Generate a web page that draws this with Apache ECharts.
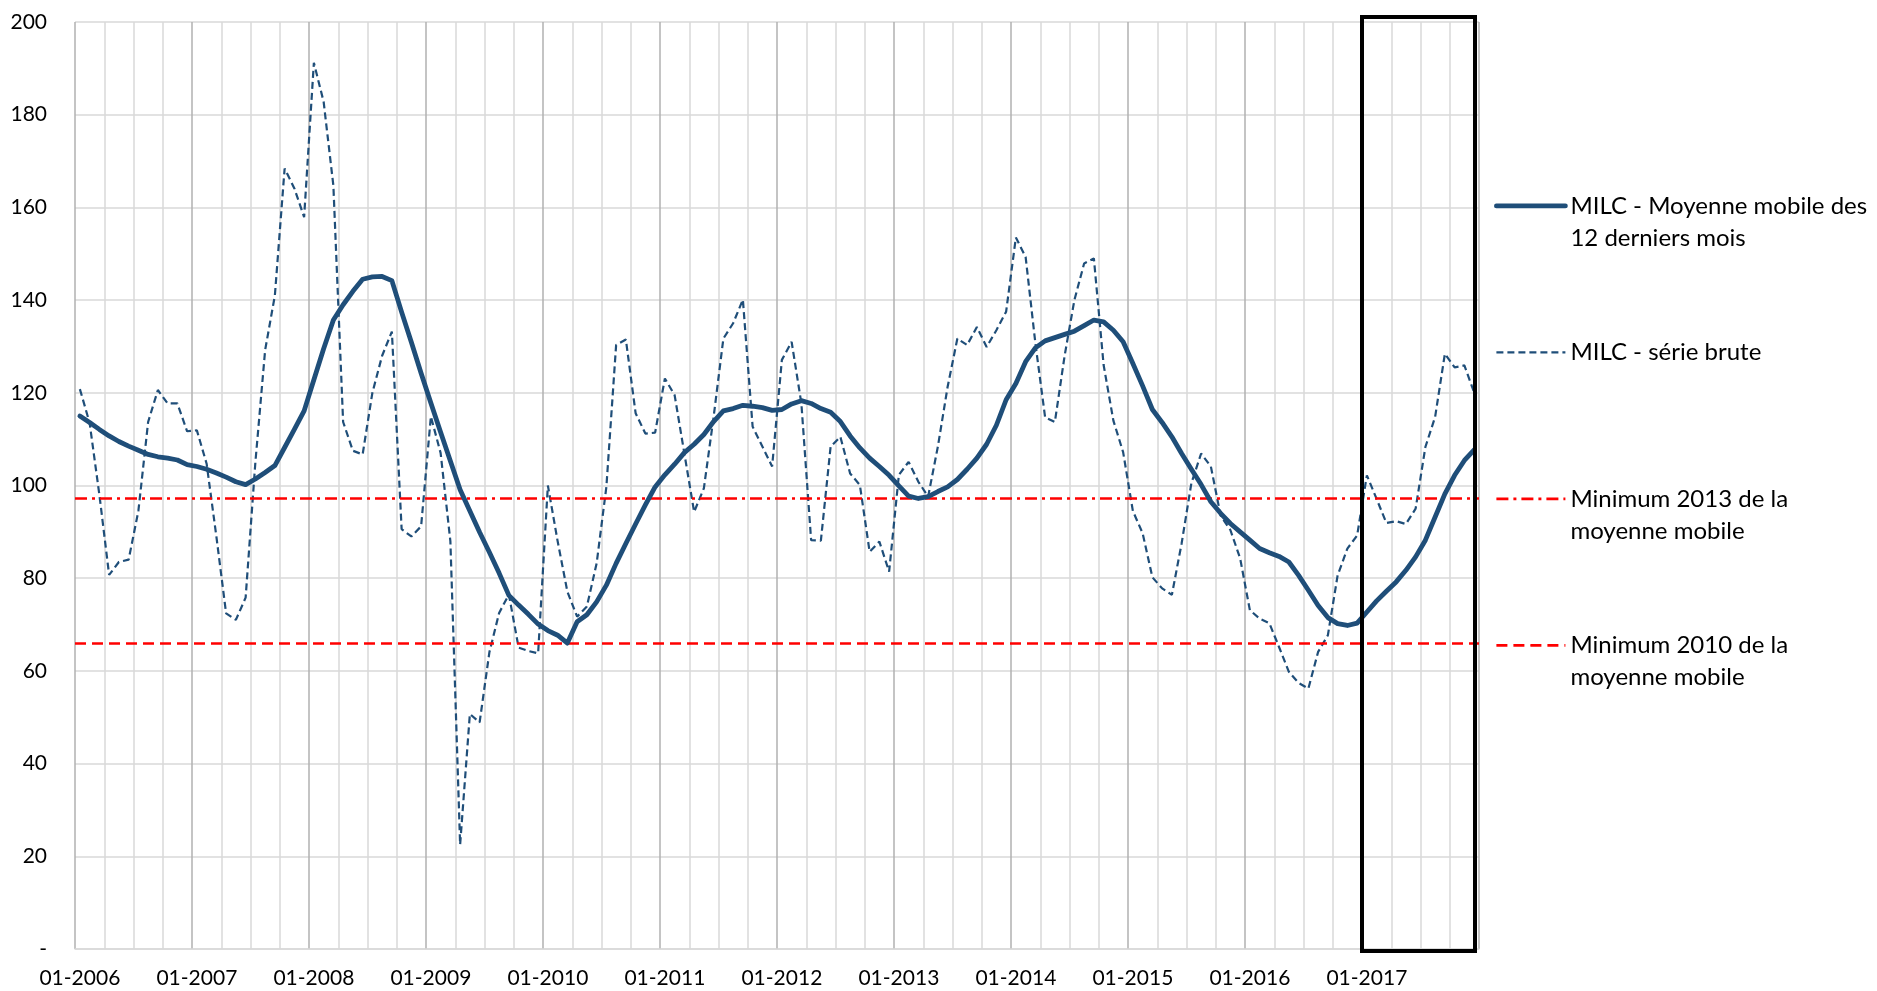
<!DOCTYPE html>
<html>
<head>
<meta charset="utf-8">
<script src="https://cdn.jsdelivr.net/npm/echarts@6/dist/echarts.min.js"></script>
<style>
html,body{margin:0;padding:0;background:#fff;}
#chart{width:1877px;height:991px;}
</style>
</head>
<body>
<div id="chart"></div>
<script>
// ---- Data ----
const years = [2006, 2007, 2008, 2009, 2010, 2011, 2012, 2013, 2014, 2015, 2016, 2017];
const months = ['01','02','03','04','05','06','07','08','09','10','11','12'];
const categories = [];
years.forEach(function (y) { months.forEach(function (m) { categories.push(m + '-' + y); }); });

const nameMA = 'MILC - Moyenne mobile des 12 derniers mois';
const nameRaw = 'MILC - série brute';
const nameMin2013 = 'Minimum 2013 de la moyenne mobile';
const nameMin2010 = 'Minimum 2010 de la moyenne mobile';

const movingAverage = [
  115.0, 113.6, 112.1, 110.7, 109.5, 108.5, 107.6, 106.7, 106.2, 105.9, 105.5, 104.5,
  104.1, 103.5, 102.7, 101.8, 100.8, 100.2, 101.4, 102.8, 104.3, 108.2, 112.1, 116.1,
  122.8, 129.5, 135.7, 139.0, 141.9, 144.5, 145.0, 145.1, 144.2, 137.4, 130.9, 124.2,
  117.8, 111.5, 105.3, 99.1, 94.5, 89.9, 85.6, 81.1, 76.3, 74.2, 72.2, 70.1,
  68.7, 67.7, 66.0, 70.6, 72.1, 74.9, 78.5, 83.2, 87.5, 91.7, 95.8, 99.7,
  102.3, 104.6, 107.1, 108.9, 111.0, 113.8, 116.1, 116.6, 117.3, 117.1, 116.8, 116.2,
  116.4, 117.6, 118.3, 117.7, 116.6, 115.8, 113.8, 110.7, 108.1, 105.9, 104.1, 102.2,
  99.9, 97.7, 97.2, 97.6, 98.7, 99.7, 101.3, 103.5, 105.9, 108.9, 113.0, 118.5,
  122.0, 126.7, 129.7, 131.2, 131.9, 132.6, 133.3, 134.5, 135.7, 135.3, 133.5, 131.0,
  126.3, 121.5, 116.4, 113.6, 110.5, 106.9, 103.5, 100.2, 96.5, 94.0, 91.8, 90.0,
  88.2, 86.4, 85.5, 84.7, 83.5, 80.6, 77.4, 74.1, 71.5, 70.2, 69.8, 70.3,
  72.7, 75.1, 77.2, 79.2, 81.7, 84.6, 88.2, 93.2, 98.2, 102.2, 105.4, 107.7
];

const rawSeries = [
  120.8, 113.5, 98.0, 80.7, 83.5, 84.0, 94.5, 113.7, 120.6, 117.7, 117.7, 111.7,
  111.9, 104.7, 89.0, 72.4, 71.0, 75.8, 105.0, 129.2, 141.0, 168.4, 164.1, 157.9,
  191.2, 182.8, 164.7, 113.7, 107.5, 106.7, 120.0, 128.0, 133.2, 90.6, 89.0, 91.2,
  114.9, 107.0, 88.0, 22.5, 50.7, 48.9, 64.0, 72.5, 76.5, 65.0, 64.3, 63.8,
  100.0, 88.0, 77.1, 71.7, 73.9, 83.2, 99.7, 130.3, 131.5, 115.6, 111.2, 111.4,
  123.1, 119.5, 106.9, 94.3, 99.4, 114.8, 131.7, 135.0, 140.1, 112.7, 108.4, 104.1,
  127.1, 131.0, 117.7, 88.2, 88.1, 108.4, 110.5, 102.6, 100.1, 85.7, 87.9, 81.4,
  102.3, 105.1, 100.8, 97.6, 108.4, 121.3, 131.7, 130.3, 134.2, 129.9, 133.5, 137.5,
  153.5, 149.3, 130.7, 114.7, 113.7, 128.0, 140.0, 147.9, 149.0, 126.0, 114.0, 107.2,
  94.5, 89.7, 80.2, 77.8, 76.4, 87.5, 100.5, 106.9, 104.1, 93.5, 90.4, 84.3,
  73.1, 71.3, 70.3, 65.1, 59.8, 57.4, 56.2, 64.1, 67.7, 80.6, 86.4, 89.2,
  102.2, 97.1, 91.9, 92.3, 91.7, 95.0, 108.3, 114.8, 128.4, 125.5, 125.9, 120.1
];

const min2013 = 97.2;
const min2010 = 66.0;

const yTicks = { min: 0, max: 200, step: 20 };
const boxStart = '01-2017';
const boxEnd = '12-2017';

const legendText = {};
legendText[nameMA] = '\nMILC - Moyenne mobile des\n12 derniers mois';
legendText[nameRaw] = '\nMILC - série brute\n';
legendText[nameMin2013] = '\nMinimum 2013 de la\nmoyenne mobile';
legendText[nameMin2010] = '\nMinimum 2010 de la\nmoyenne mobile';

// ---- Styles ----
const FONT = 'Lato, "Open Sans", sans-serif';
const BLUE = '#1F4E79';
const RED = '#FF0000';
const styleMA = { color: BLUE, width: 4.8, cap: 'round', join: 'round' };
const styleRaw = { color: BLUE, width: 2.2, type: [7, 4] };
const styleMin2013 = { color: RED, width: 2.7, type: [12, 5, 3, 5] };
const styleMin2010 = { color: RED, width: 2.7, type: [11, 6] };

const chart = echarts.init(document.getElementById('chart'), null, { renderer: 'canvas' });

const option = {
  animation: false,
  backgroundColor: '#ffffff',
  textStyle: { fontFamily: FONT },
  grid: { left: 75, right: 398, top: 22, bottom: 42, containLabel: false },
  legend: {
    orient: 'vertical',
    left: 1494,
    top: 157.9,
    padding: 0,
    itemWidth: 69,
    itemHeight: 1,
    itemGap: 50.5,
    selectedMode: false,
    data: [
      { name: nameMA, lineStyle: { width: 4.8, color: BLUE, type: 'solid', cap: 'round' } },
      { name: nameRaw, lineStyle: { width: 2.2, color: BLUE, type: [7, 4] } },
      { name: nameMin2013, lineStyle: { width: 2.7, color: RED, type: [12, 5, 3, 5] } },
      { name: nameMin2010, lineStyle: { width: 2.7, color: RED, type: [11, 6] } }
    ],
    formatter: function (n) { return legendText[n]; },
    textStyle: { fontFamily: FONT, fontSize: 24, color: '#000', lineHeight: 32 }
  },
  xAxis: {
    type: 'category',
    data: categories,
    boundaryGap: true,
    axisLine: { show: true, lineStyle: { color: '#d9d9d9', width: 1.5 } },
    axisTick: { show: false },
    axisLabel: {
      interval: 11,
      margin: 19,
      fontFamily: FONT,
      fontSize: 21,
      color: '#000'
    },
    splitLine: {
      show: true,
      interval: 2,
      lineStyle: { color: ['#b0b0b0', '#d9d9d9', '#d9d9d9', '#d9d9d9'], width: 1.5 }
    }
  },
  yAxis: {
    type: 'value',
    min: yTicks.min,
    max: yTicks.max,
    interval: yTicks.step,
    axisLine: { show: false },
    axisTick: { show: false },
    axisLabel: {
      margin: 28,
      fontFamily: FONT,
      fontSize: 21,
      color: '#000',
      formatter: function (v) { return v === 0 ? '-' : String(v); }
    },
    splitLine: { show: true, lineStyle: { color: '#d9d9d9', width: 1.5 } }
  },
  series: [
    {
      name: nameMA,
      type: 'line',
      data: movingAverage,
      symbol: 'none',
      color: BLUE,
      lineStyle: styleMA,
      z: 5
    },
    {
      name: nameRaw,
      type: 'line',
      data: rawSeries,
      symbol: 'none',
      color: BLUE,
      lineStyle: styleRaw,
      z: 4
    },
    {
      name: nameMin2013,
      type: 'line',
      data: [],
      symbol: 'none',
      color: RED,
      lineStyle: styleMin2013,
      markLine: {
        silent: true,
        symbol: ['none', 'none'],
        label: { show: false },
        lineStyle: styleMin2013,
        data: [{ yAxis: min2013 }]
      },
      z: 3
    },
    {
      name: nameMin2010,
      type: 'line',
      data: [],
      symbol: 'none',
      color: RED,
      lineStyle: styleMin2010,
      markLine: {
        silent: true,
        symbol: ['none', 'none'],
        label: { show: false },
        lineStyle: styleMin2010,
        data: [{ yAxis: min2010 }]
      },
      z: 3
    }
  ]
};

chart.setOption(option);

// Highlight box around the last year, positioned through the axes
(function () {
  const c0 = chart.convertToPixel({ xAxisIndex: 0 }, categories[0]);
  const c1 = chart.convertToPixel({ xAxisIndex: 0 }, categories[1]);
  const band = c1 - c0;
  const xL = chart.convertToPixel({ xAxisIndex: 0 }, boxStart) - band / 2;
  const xR = chart.convertToPixel({ xAxisIndex: 0 }, boxEnd) + band / 2 - 4;
  const yT = chart.convertToPixel({ yAxisIndex: 0 }, yTicks.max) - 5;
  const yB = chart.convertToPixel({ yAxisIndex: 0 }, yTicks.min) + 2;
  chart.setOption({
    graphic: [{
      type: 'rect',
      z: 100,
      silent: true,
      shape: { x: xL, y: yT, width: xR - xL, height: yB - yT },
      style: { fill: 'none', stroke: '#000', lineWidth: 4 }
    }]
  });
})();
</script>
</body>
</html>
